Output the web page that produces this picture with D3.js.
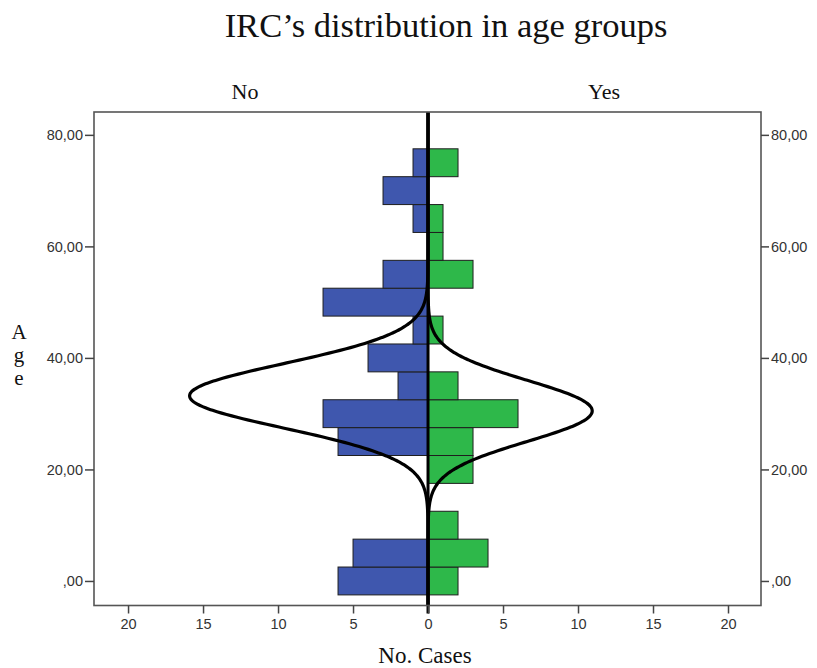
<!DOCTYPE html>
<html>
<head>
<meta charset="utf-8">
<script src="https://cdn.jsdelivr.net/npm/d3@7"></script>
<style>
  body { margin: 0; background: #fff; }
  svg { display: block; }
  .tick text { font-family: "Liberation Sans", Arial, sans-serif; font-size: 14.5px; fill: #333; }
  .tick line { stroke: #444; stroke-width: 1.5; }
  .serif { font-family: "Liberation Serif", "Times New Roman", serif; fill: #111; }
</style>
</head>
<body>
<div id="chart"></div>
<script>
// age bins (centre of each 5-year bin)
var ageBins = [0, 5, 10, 15, 20, 25, 30, 35, 40, 45, 50, 55, 60, 65, 70, 75];
var countNo = [6, 5, 0, 0, 0, 6, 7, 2, 4, 1, 7, 3, 0, 1, 3, 1];
var countYes = [2, 4, 2, 0, 3, 3, 6, 2, 0, 1, 0, 3, 1, 1, 0, 2];
var binWidth = 5;

// normal curves as drawn (mean, sd, peak in cases)
var curveNo = {mean: 33.2, sd: 5.77, peak: 15.9};
var curveYes = {mean: 30.5, sd: 5.46, peak: 10.95};

var xTicks = [-20, -15, -10, -5, 0, 5, 10, 15, 20];
var yTicks = [0, 20, 40, 60, 80];

var width = 817, height = 668;
var box = {left: 94, right: 761, top: 112, bottom: 605.5};

var svg = d3.select('#chart').append('svg')
    .attr('width', width)
    .attr('height', height);

var x = d3.scaleLinear().domain([-22.27, 22.2]).range([box.left, box.right]);
var y = d3.scaleLinear().domain([-4.4, 84.1]).range([box.bottom, box.top]);

var rows = ageBins.map(function(a, i) {
  return {age: a, no: countNo[i], yes: countYes[i]};
});

//Bars - No on the left, Yes on the right
svg.selectAll('rect.no')
  .data(rows.filter(function(d) { return d.no > 0; }))
  .enter().append('rect')
    .attr('class', 'no')
    .attr('x', function(d) { return x(-d.no); })
    .attr('width', function(d) { return x(0) - x(-d.no); })
    .attr('y', function(d) { return y(d.age + binWidth / 2); })
    .attr('height', function(d) { return y(d.age - binWidth / 2) - y(d.age + binWidth / 2); })
    .attr('fill', '#3f57ae')
    .attr('stroke', '#1e1e1e')
    .attr('stroke-width', 1);

svg.selectAll('rect.yes')
  .data(rows.filter(function(d) { return d.yes > 0; }))
  .enter().append('rect')
    .attr('class', 'yes')
    .attr('x', x(0))
    .attr('width', function(d) { return x(d.yes) - x(0); })
    .attr('y', function(d) { return y(d.age + binWidth / 2); })
    .attr('height', function(d) { return y(d.age - binWidth / 2) - y(d.age + binWidth / 2); })
    .attr('fill', '#2eb84a')
    .attr('stroke', '#1e1e1e')
    .attr('stroke-width', 1);

//Normal curves
function curvePoints(c, sign) {
  var pts = [];
  for (var a = -4.4; a <= 84.1; a += 0.25) {
    var z = (a - c.mean) / c.sd;
    pts.push([sign * c.peak * Math.exp(-0.5 * z * z), a]);
  }
  return pts;
}

var line = d3.line()
  .x(function(d) { return x(d[0]); })
  .y(function(d) { return y(d[1]); })
  .curve(d3.curveBasis);

svg.append('path')
  .attr('d', line(curvePoints(curveNo, -1)))
  .attr('fill', 'none')
  .attr('stroke', '#000')
  .attr('stroke-width', 3.2);

svg.append('path')
  .attr('d', line(curvePoints(curveYes, 1)))
  .attr('fill', 'none')
  .attr('stroke', '#000')
  .attr('stroke-width', 3.2);

//Centre line
svg.append('line')
  .attr('x1', x(0)).attr('x2', x(0))
  .attr('y1', box.top).attr('y2', box.bottom + 8)
  .attr('stroke', '#000')
  .attr('stroke-width', 3);

//Frame
svg.append('rect')
  .attr('x', box.left).attr('y', box.top)
  .attr('width', box.right - box.left)
  .attr('height', box.bottom - box.top)
  .attr('fill', 'none')
  .attr('stroke', '#555')
  .attr('stroke-width', 1.6);

//Axes
function ageFormat(d) {
  return d === 0 ? ',00' : d.toFixed(2).replace('.', ',');
}

var gx = svg.append('g')
  .attr('transform', 'translate(0,' + box.bottom + ')')
  .call(d3.axisBottom(x).tickValues(xTicks).tickSize(8).tickPadding(5)
    .tickFormat(function(d) { return Math.abs(d); }));
gx.select('.domain').remove();

var gl = svg.append('g')
  .attr('transform', 'translate(' + box.left + ',0)')
  .call(d3.axisLeft(y).tickValues(yTicks).tickSize(9).tickPadding(2).tickFormat(ageFormat));
gl.select('.domain').remove();

var gr = svg.append('g')
  .attr('transform', 'translate(' + box.right + ',0)')
  .call(d3.axisRight(y).tickValues(yTicks).tickSize(8).tickPadding(2).tickFormat(ageFormat));
gr.select('.domain').remove();

//Texts
svg.append('text')
  .attr('class', 'serif')
  .attr('x', 446).attr('y', 37)
  .attr('text-anchor', 'middle')
  .style('font-size', '34.5px')
  .text('IRC’s distribution in age groups');

svg.append('text')
  .attr('class', 'serif')
  .attr('x', 245).attr('y', 99)
  .attr('text-anchor', 'middle')
  .style('font-size', '22px')
  .text('No');

svg.append('text')
  .attr('class', 'serif')
  .attr('x', 604).attr('y', 99)
  .attr('text-anchor', 'middle')
  .style('font-size', '22px')
  .text('Yes');

svg.append('text')
  .attr('class', 'serif')
  .attr('x', 425).attr('y', 663)
  .attr('text-anchor', 'middle')
  .style('font-size', '23px')
  .text('No. Cases');

svg.append('text')
  .attr('class', 'serif')
  .attr('x', 19).attr('y', 339)
  .attr('text-anchor', 'middle')
  .style('font-size', '21px')
  .selectAll('tspan')
  .data(['A', 'g', 'e'])
  .enter().append('tspan')
    .attr('x', 19)
    .attr('dy', function(d, i) { return i === 0 ? 0 : 23; })
    .text(function(d) { return d; });
</script>
</body>
</html>
